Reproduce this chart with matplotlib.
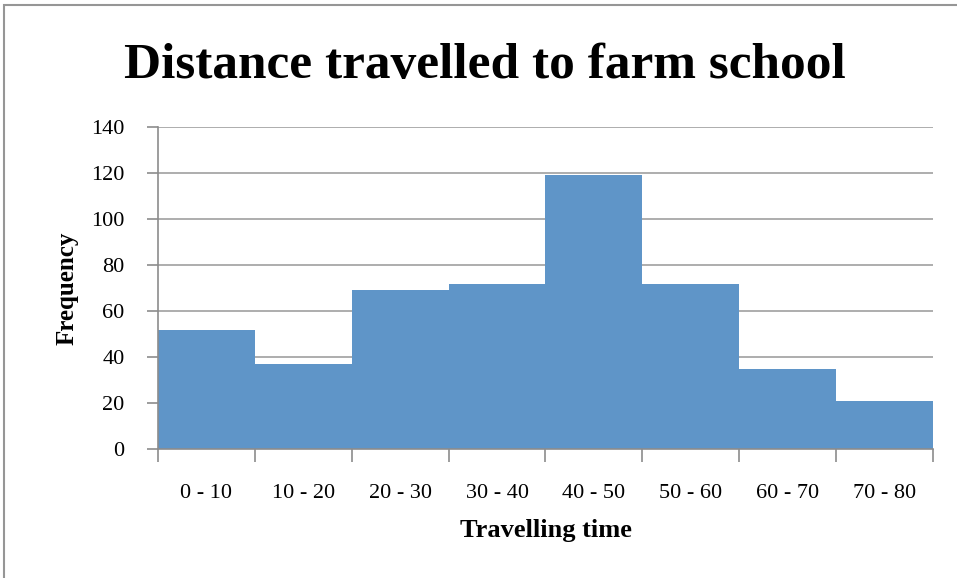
import matplotlib.pyplot as plt
import matplotlib.patches as mpatches

# data
categories = ["0 - 10", "10 - 20", "20 - 30", "30 - 40", "40 - 50", "50 - 60", "60 - 70", "70 - 80"]
frequency = [52, 37, 69, 72, 119, 72, 35, 21]
y_ticks = [0, 20, 40, 60, 80, 100, 120, 140]

plt.rcParams['font.family'] = ['Liberation Serif', 'DejaVu Serif']

fig = plt.figure(figsize=(9.57, 5.78), dpi=100)
ax = fig.add_axes([0.165, 0.223, 0.81, 0.557])

# outer chart frame (cut off at right and bottom like the screenshot)
fig.patches.append(mpatches.Rectangle((4 / 957, -0.1), 1.2, 1 - 5 / 578 + 0.1,
                                      transform=fig.transFigure, fill=False,
                                      edgecolor='#969696', linewidth=1.5))

x = list(range(len(categories)))
ax.bar(x, frequency, width=1.0, color='#5F95C8', edgecolor='none', zorder=2)

ax.set_xlim(-0.5, len(categories) - 0.5)
ax.set_ylim(0, 140)
ax.set_yticks(y_ticks)
ax.set_yticklabels([str(v) for v in y_ticks], fontsize=16)
ax.set_xticks(x)
ax.set_xticklabels(categories, fontsize=16)
ax.tick_params(axis='x', length=0, pad=25)
ax.tick_params(axis='y', length=8, color='#8c8c8c', width=1.2, pad=16)

# category boundary ticks
ax.set_xticks([i - 0.5 for i in range(len(categories) + 1)], minor=True)
ax.tick_params(axis='x', which='minor', length=9, color='#8c8c8c', width=1.2)

ax.grid(axis='y', color='#a0a0a0', linewidth=1.2, zorder=0)
ax.set_axisbelow(True)
for s in ['top', 'right']:
    ax.spines[s].set_visible(False)
ax.spines['left'].set_color('#8c8c8c')
ax.spines['bottom'].set_color('#8c8c8c')
ax.spines['left'].set_linewidth(1.2)
ax.spines['bottom'].set_linewidth(1.2)

ax.set_xlabel("Travelling time", fontsize=19, fontweight='bold', labelpad=12)
ax.set_ylabel("Frequency", fontsize=18, fontweight='bold', labelpad=9)
fig.text(0.507, 0.885, "Distance travelled to farm school", ha='center', va='center',
         fontsize=37, fontweight='bold')

fig.savefig("out.png", dpi=100)
